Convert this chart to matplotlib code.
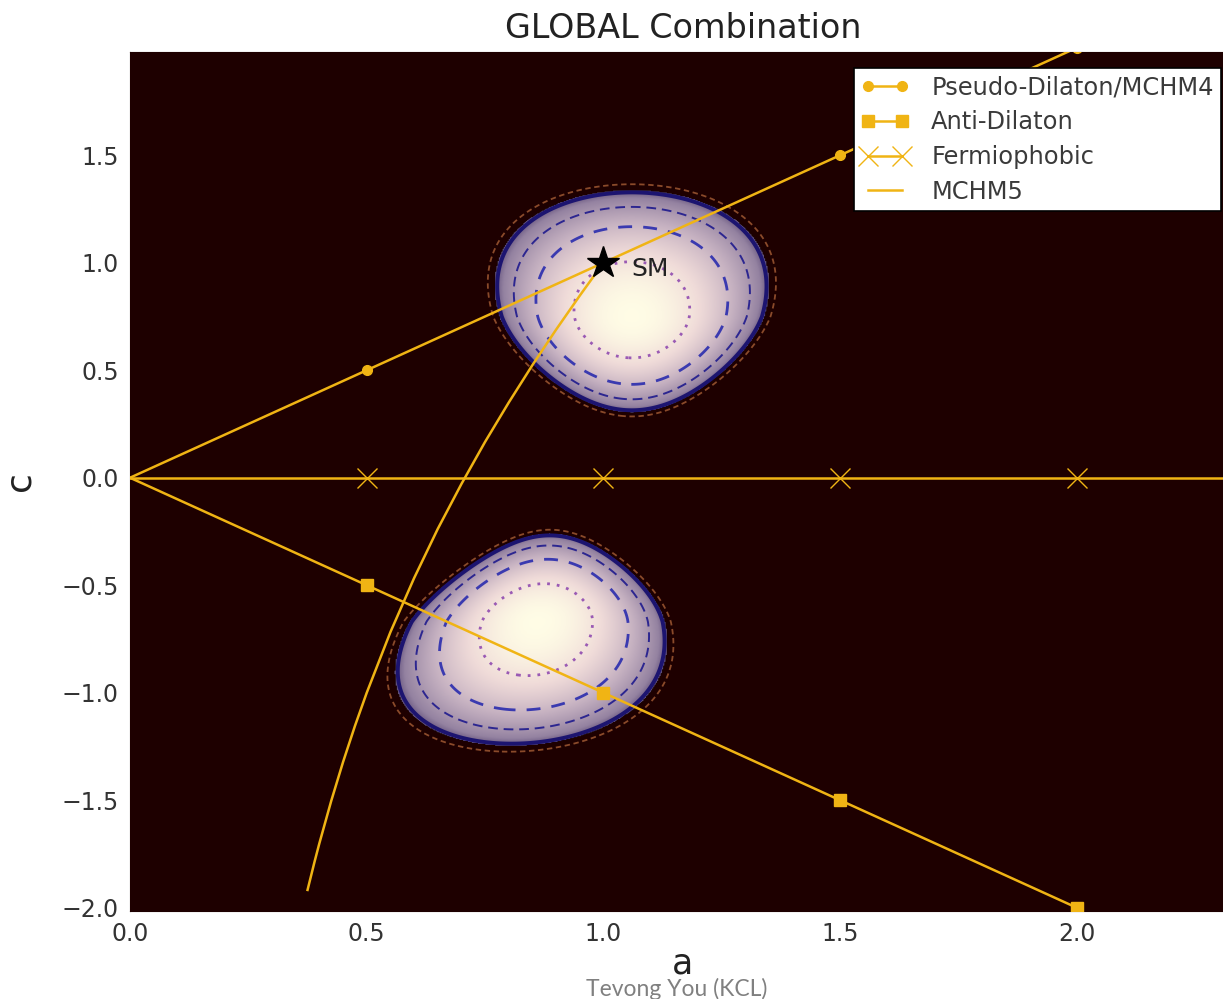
import numpy as np
import matplotlib
matplotlib.use("Agg")
import matplotlib.pyplot as plt
from matplotlib.colors import LinearSegmentedColormap

# ---- benchmark model lines in the (a, c) plane ----
dil_a = [0.0, 0.5, 1.0, 1.5, 2.0]
dil_c = [0.0, 0.5, 1.0, 1.5, 2.0]
anti_a = [0.0, 0.5, 1.0, 1.5, 2.0]
anti_c = [0.0, -0.5, -1.0, -1.5, -2.0]
ferm_a = [0.0, 0.5, 1.0, 1.5, 2.0, 2.5]
ferm_c = [0.0, 0.0, 0.0, 0.0, 0.0, 0.0]
mchm5_a = [0.375, 0.39, 0.40, 0.425, 0.45, 0.475, 0.50, 0.55, 0.60, 0.65, 0.70,
           0.75, 0.80, 0.85, 0.90, 0.95, 1.00]
mchm5_c = [-1.917, -1.784, -1.700, -1.503, -1.322, -1.155, -1.000, -0.718,
           -0.467, -0.238, -0.029, 0.167, 0.350, 0.524, 0.689, 0.847, 1.000]
sm_point = (1.0, 1.0)

# ---- global fit: two allowed islands
# (centre a, centre c, width a, width c above, width c below, corr, skew) ----
island_upper = [1.06, 0.75, 0.080, 0.168, 0.127, 0.0, 0.08]
island_lower = [0.86, -0.67, 0.078, 0.117, 0.165, 0.15, -0.10]
chi2_levels = [2.30, 6.18, 9.2, 11.8, 13.4]

x_ticks = [0.0, 0.5, 1.0, 1.5, 2.0]
y_ticks = [-2.0, -1.5, -1.0, -0.5, 0.0, 0.5, 1.0, 1.5]
xlim = (0.0, 2.336)
ylim = (-2.015, 1.98)

gold = "#f0b414"

A = np.linspace(xlim[0], xlim[1], 900)
Cg = np.linspace(ylim[0], ylim[1], 900)
AA, CC = np.meshgrid(A, Cg)


def island_chi2(p):
    a0, c0, sa, sc_up, sc_dn, rho, skew = p
    w = (CC - c0) / np.where(CC > c0, sc_up, sc_dn)
    u = (AA - a0) / sa / np.clip(1.0 + skew * w, 0.3, None)
    return (u ** 2 - 2 * rho * u * w + w ** 2) / (1 - rho ** 2)


chi2 = np.minimum(island_chi2(island_upper), island_chi2(island_lower))
t_fill = 12.3
shade = np.ma.masked_where(chi2 > t_fill, 1.0 - chi2 / t_fill)

cmap = LinearSegmentedColormap.from_list(
    "island",
    [(0.0, (0.38, 0.31, 0.48)),
     (0.12, (0.58, 0.51, 0.63)),
     (0.45, (0.78, 0.70, 0.76)),
     (0.75, (0.94, 0.86, 0.85)),
     (1.0, (1.0, 0.99, 0.90))])

fig = plt.figure(figsize=(12.23, 9.99), dpi=100)
ax = fig.add_axes([130 / 1223, 1 - 911 / 999, 1106 / 1223, (911 - 52) / 999])
ax.set_facecolor("#1e0000")

ax.imshow(shade, extent=(xlim[0], xlim[1], ylim[0], ylim[1]), origin="lower",
          cmap=cmap, vmin=0, vmax=1, aspect="auto", interpolation="bilinear", zorder=1)

ax.contour(AA, CC, chi2, levels=[chi2_levels[4]], colors=["#8a4a2a"],
           linewidths=1.3, linestyles=[(0, (3, 2))], zorder=2)
ax.contour(AA, CC, chi2, levels=[chi2_levels[3]], colors=["#1c1470"],
           linewidths=2.8, zorder=2)
ax.contour(AA, CC, chi2, levels=[chi2_levels[2]], colors=["#2c2690"],
           linewidths=1.4, linestyles=[(0, (5, 3))], zorder=2)
ax.contour(AA, CC, chi2, levels=[chi2_levels[1]], colors=["#3a3ab0"],
           linewidths=2.0, linestyles=[(0, (5, 4))], zorder=2)
ax.contour(AA, CC, chi2, levels=[chi2_levels[0]], colors=["#9a5ab4"],
           linewidths=2.0, linestyles=[(0, (1, 2.5))], zorder=2)

ax.plot(dil_a, dil_c, color=gold, lw=1.8, marker="o", ms=7, markevery=slice(1, None),
        label="Pseudo-Dilaton/MCHM4", zorder=3)
ax.plot(anti_a, anti_c, color=gold, lw=1.8, marker="s", ms=8, markevery=slice(1, None),
        label="Anti-Dilaton", zorder=3)
ax.plot(ferm_a, ferm_c, color=gold, lw=1.8, marker="x", ms=15, mew=1.0,
        markevery=slice(1, None), label="Fermiophobic", zorder=3)
ax.plot(mchm5_a, mchm5_c, color=gold, lw=1.8, label="MCHM5", zorder=3)

ax.plot([sm_point[0]], [sm_point[1]], marker="*", color="black", ms=24, zorder=4)
ax.text(sm_point[0] + 0.06, sm_point[1] - 0.03, "SM", fontsize=18, color="#222222",
        va="center", ha="left", zorder=4)

ax.set_xlim(*xlim)
ax.set_ylim(*ylim)
ax.set_xticks(x_ticks)
ax.set_yticks(y_ticks)
ax.tick_params(length=0, labelsize=17, colors="#333333", pad=8)
for s in ax.spines.values():
    s.set_color("#1e0000")

ax.set_title("GLOBAL Combination", fontsize=24, color="#222222", pad=10)
ax.set_xlabel("a", fontsize=25, color="#222222", labelpad=0)
ax.set_ylabel("c", fontsize=26, color="#222222", labelpad=18)

leg = ax.legend(loc="upper right", bbox_to_anchor=(1221 / 1223, 1 - 68 / 999),
                bbox_transform=fig.transFigure, borderaxespad=0, fontsize=17.4,
                frameon=True, fancybox=False, framealpha=1, edgecolor="black",
                labelspacing=0.45, borderpad=0.3, handlelength=2.0, handletextpad=0.9,
                numpoints=2)
for t in leg.get_texts():
    t.set_color("#3a3a3a")
leg.get_frame().set_linewidth(1.2)

fig.text(0.5536, 0.0105, "Tevong You (KCL)", fontsize=16.5, color="#808080",
         ha="center", va="center", family=["Lato", "DejaVu Sans"])

fig.savefig("out.png", dpi=100)
